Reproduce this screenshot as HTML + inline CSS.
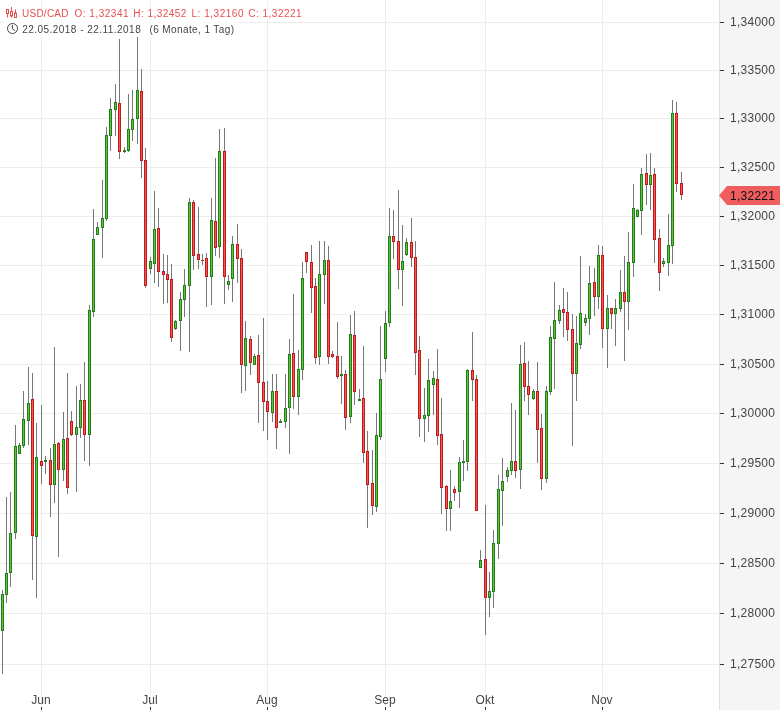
<!DOCTYPE html>
<html lang="de"><head><meta charset="utf-8"><title>USD/CAD</title>
<style>html,body{margin:0;padding:0;background:#fff}body{width:780px;height:710px;overflow:hidden}svg{display:block;will-change:transform}text{font-family:"Liberation Sans",Arial,sans-serif}</style></head><body>
<svg width="780" height="710" viewBox="0 0 780 710">
<rect width="780" height="710" fill="#fff"/>
<g shape-rendering="crispEdges" fill="#ededed">
<rect x="0" y="22" width="719" height="1"/>
<rect x="0" y="70" width="719" height="1"/>
<rect x="0" y="118" width="719" height="1"/>
<rect x="0" y="167" width="719" height="1"/>
<rect x="0" y="216" width="719" height="1"/>
<rect x="0" y="265" width="719" height="1"/>
<rect x="0" y="314" width="719" height="1"/>
<rect x="0" y="364" width="719" height="1"/>
<rect x="0" y="413" width="719" height="1"/>
<rect x="0" y="463" width="719" height="1"/>
<rect x="0" y="513" width="719" height="1"/>
<rect x="0" y="563" width="719" height="1"/>
<rect x="0" y="613" width="719" height="1"/>
<rect x="0" y="664" width="719" height="1"/>
<rect x="41" y="0" width="1" height="706"/>
<rect x="150" y="0" width="1" height="706"/>
<rect x="267" y="0" width="1" height="706"/>
<rect x="385" y="0" width="1" height="706"/>
<rect x="485" y="0" width="1" height="706"/>
<rect x="602" y="0" width="1" height="706"/>
</g>
<g shape-rendering="crispEdges">
<rect x="2" y="590" width="1" height="84" fill="#777777"/>
<rect x="1" y="594" width="3" height="37" fill="#1f7f1f"/>
<rect x="2" y="595" width="1" height="35" fill="#66c233"/>
<rect x="6" y="497" width="1" height="106" fill="#777777"/>
<rect x="5" y="573" width="3" height="22" fill="#1f7f1f"/>
<rect x="6" y="574" width="1" height="20" fill="#66c233"/>
<rect x="10" y="492" width="1" height="95" fill="#777777"/>
<rect x="9" y="533" width="3" height="40" fill="#1f7f1f"/>
<rect x="10" y="534" width="1" height="38" fill="#66c233"/>
<rect x="15" y="425" width="1" height="114" fill="#777777"/>
<rect x="14" y="446" width="3" height="87" fill="#1f7f1f"/>
<rect x="15" y="447" width="1" height="85" fill="#66c233"/>
<rect x="19" y="443" width="1" height="11" fill="#777777"/>
<rect x="18" y="445" width="3" height="9" fill="#1f7f1f"/>
<rect x="19" y="446" width="1" height="7" fill="#66c233"/>
<rect x="23" y="391" width="1" height="57" fill="#777777"/>
<rect x="22" y="419" width="3" height="27" fill="#1f7f1f"/>
<rect x="23" y="420" width="1" height="25" fill="#66c233"/>
<rect x="28" y="367" width="1" height="78" fill="#777777"/>
<rect x="27" y="403" width="3" height="18" fill="#1f7f1f"/>
<rect x="28" y="404" width="1" height="16" fill="#66c233"/>
<rect x="32" y="373" width="1" height="207" fill="#777777"/>
<rect x="31" y="399" width="3" height="137" fill="#c21a1a"/>
<rect x="32" y="400" width="1" height="135" fill="#f05858"/>
<rect x="36" y="423" width="1" height="175" fill="#777777"/>
<rect x="35" y="457" width="3" height="80" fill="#1f7f1f"/>
<rect x="36" y="458" width="1" height="78" fill="#66c233"/>
<rect x="41" y="405" width="1" height="79" fill="#777777"/>
<rect x="40" y="461" width="3" height="5" fill="#c21a1a"/>
<rect x="41" y="462" width="1" height="3" fill="#f05858"/>
<rect x="45" y="456" width="1" height="18" fill="#777777"/>
<rect x="44" y="460" width="3" height="2" fill="#1f7f1f"/>
<rect x="50" y="448" width="1" height="69" fill="#777777"/>
<rect x="49" y="460" width="3" height="25" fill="#c21a1a"/>
<rect x="50" y="461" width="1" height="23" fill="#f05858"/>
<rect x="54" y="347" width="1" height="156" fill="#777777"/>
<rect x="53" y="444" width="3" height="41" fill="#1f7f1f"/>
<rect x="54" y="445" width="1" height="39" fill="#66c233"/>
<rect x="58" y="442" width="1" height="115" fill="#777777"/>
<rect x="57" y="443" width="3" height="27" fill="#c21a1a"/>
<rect x="58" y="444" width="1" height="25" fill="#f05858"/>
<rect x="63" y="412" width="1" height="69" fill="#777777"/>
<rect x="62" y="439" width="3" height="31" fill="#1f7f1f"/>
<rect x="63" y="440" width="1" height="29" fill="#66c233"/>
<rect x="67" y="373" width="1" height="121" fill="#777777"/>
<rect x="66" y="438" width="3" height="50" fill="#c21a1a"/>
<rect x="67" y="439" width="1" height="48" fill="#f05858"/>
<rect x="71" y="411" width="1" height="25" fill="#777777"/>
<rect x="70" y="421" width="3" height="14" fill="#c21a1a"/>
<rect x="71" y="422" width="1" height="12" fill="#f05858"/>
<rect x="76" y="386" width="1" height="106" fill="#777777"/>
<rect x="75" y="427" width="3" height="8" fill="#1f7f1f"/>
<rect x="76" y="428" width="1" height="6" fill="#66c233"/>
<rect x="80" y="384" width="1" height="54" fill="#777777"/>
<rect x="79" y="400" width="3" height="28" fill="#1f7f1f"/>
<rect x="80" y="401" width="1" height="26" fill="#66c233"/>
<rect x="84" y="362" width="1" height="99" fill="#777777"/>
<rect x="83" y="400" width="3" height="35" fill="#c21a1a"/>
<rect x="84" y="401" width="1" height="33" fill="#f05858"/>
<rect x="89" y="305" width="1" height="161" fill="#777777"/>
<rect x="88" y="310" width="3" height="125" fill="#1f7f1f"/>
<rect x="89" y="311" width="1" height="123" fill="#66c233"/>
<rect x="93" y="209" width="1" height="108" fill="#777777"/>
<rect x="92" y="239" width="3" height="73" fill="#1f7f1f"/>
<rect x="93" y="240" width="1" height="71" fill="#66c233"/>
<rect x="97" y="222" width="1" height="13" fill="#777777"/>
<rect x="96" y="227" width="3" height="8" fill="#1f7f1f"/>
<rect x="97" y="228" width="1" height="6" fill="#66c233"/>
<rect x="102" y="180" width="1" height="78" fill="#777777"/>
<rect x="101" y="218" width="3" height="10" fill="#1f7f1f"/>
<rect x="102" y="219" width="1" height="8" fill="#66c233"/>
<rect x="106" y="127" width="1" height="94" fill="#777777"/>
<rect x="105" y="135" width="3" height="84" fill="#1f7f1f"/>
<rect x="106" y="136" width="1" height="82" fill="#66c233"/>
<rect x="110" y="98" width="1" height="53" fill="#777777"/>
<rect x="109" y="109" width="3" height="27" fill="#1f7f1f"/>
<rect x="110" y="110" width="1" height="25" fill="#66c233"/>
<rect x="115" y="84" width="1" height="52" fill="#777777"/>
<rect x="114" y="102" width="3" height="8" fill="#1f7f1f"/>
<rect x="115" y="103" width="1" height="6" fill="#66c233"/>
<rect x="119" y="39" width="1" height="120" fill="#777777"/>
<rect x="118" y="103" width="3" height="49" fill="#c21a1a"/>
<rect x="119" y="104" width="1" height="47" fill="#f05858"/>
<rect x="124" y="147" width="1" height="6" fill="#777777"/>
<rect x="123" y="150" width="3" height="2" fill="#1f7f1f"/>
<rect x="128" y="94" width="1" height="58" fill="#777777"/>
<rect x="127" y="129" width="3" height="22" fill="#1f7f1f"/>
<rect x="128" y="130" width="1" height="20" fill="#66c233"/>
<rect x="132" y="90" width="1" height="51" fill="#777777"/>
<rect x="131" y="119" width="3" height="11" fill="#1f7f1f"/>
<rect x="132" y="120" width="1" height="9" fill="#66c233"/>
<rect x="137" y="37" width="1" height="107" fill="#777777"/>
<rect x="136" y="90" width="3" height="29" fill="#1f7f1f"/>
<rect x="137" y="91" width="1" height="27" fill="#66c233"/>
<rect x="141" y="69" width="1" height="109" fill="#777777"/>
<rect x="140" y="91" width="3" height="70" fill="#c21a1a"/>
<rect x="141" y="92" width="1" height="68" fill="#f05858"/>
<rect x="145" y="148" width="1" height="140" fill="#777777"/>
<rect x="144" y="160" width="3" height="126" fill="#c21a1a"/>
<rect x="145" y="161" width="1" height="124" fill="#f05858"/>
<rect x="150" y="257" width="1" height="17" fill="#777777"/>
<rect x="149" y="261" width="3" height="8" fill="#1f7f1f"/>
<rect x="150" y="262" width="1" height="6" fill="#66c233"/>
<rect x="154" y="191" width="1" height="92" fill="#777777"/>
<rect x="153" y="229" width="3" height="35" fill="#1f7f1f"/>
<rect x="154" y="230" width="1" height="33" fill="#66c233"/>
<rect x="158" y="208" width="1" height="79" fill="#777777"/>
<rect x="157" y="228" width="3" height="44" fill="#c21a1a"/>
<rect x="158" y="229" width="1" height="42" fill="#f05858"/>
<rect x="163" y="254" width="1" height="50" fill="#777777"/>
<rect x="162" y="271" width="3" height="4" fill="#c21a1a"/>
<rect x="163" y="272" width="1" height="2" fill="#f05858"/>
<rect x="167" y="255" width="1" height="48" fill="#777777"/>
<rect x="166" y="274" width="3" height="6" fill="#c21a1a"/>
<rect x="167" y="275" width="1" height="4" fill="#f05858"/>
<rect x="171" y="264" width="1" height="78" fill="#777777"/>
<rect x="170" y="279" width="3" height="59" fill="#c21a1a"/>
<rect x="171" y="280" width="1" height="57" fill="#f05858"/>
<rect x="175" y="320" width="1" height="10" fill="#777777"/>
<rect x="174" y="321" width="3" height="8" fill="#1f7f1f"/>
<rect x="175" y="322" width="1" height="6" fill="#66c233"/>
<rect x="180" y="292" width="1" height="59" fill="#777777"/>
<rect x="179" y="299" width="3" height="22" fill="#1f7f1f"/>
<rect x="180" y="300" width="1" height="20" fill="#66c233"/>
<rect x="184" y="269" width="1" height="48" fill="#777777"/>
<rect x="183" y="285" width="3" height="15" fill="#1f7f1f"/>
<rect x="184" y="286" width="1" height="13" fill="#66c233"/>
<rect x="189" y="198" width="1" height="154" fill="#777777"/>
<rect x="188" y="202" width="3" height="84" fill="#1f7f1f"/>
<rect x="189" y="203" width="1" height="82" fill="#66c233"/>
<rect x="193" y="200" width="1" height="70" fill="#777777"/>
<rect x="192" y="202" width="3" height="54" fill="#c21a1a"/>
<rect x="193" y="203" width="1" height="52" fill="#f05858"/>
<rect x="198" y="207" width="1" height="62" fill="#777777"/>
<rect x="197" y="254" width="3" height="6" fill="#c21a1a"/>
<rect x="198" y="255" width="1" height="4" fill="#f05858"/>
<rect x="202" y="254" width="1" height="11" fill="#777777"/>
<rect x="201" y="260" width="3" height="1" fill="#c21a1a"/>
<rect x="206" y="253" width="1" height="54" fill="#777777"/>
<rect x="205" y="258" width="3" height="19" fill="#c21a1a"/>
<rect x="206" y="259" width="1" height="17" fill="#f05858"/>
<rect x="211" y="198" width="1" height="107" fill="#777777"/>
<rect x="210" y="220" width="3" height="57" fill="#1f7f1f"/>
<rect x="211" y="221" width="1" height="55" fill="#66c233"/>
<rect x="215" y="158" width="1" height="98" fill="#777777"/>
<rect x="214" y="221" width="3" height="27" fill="#c21a1a"/>
<rect x="215" y="222" width="1" height="25" fill="#f05858"/>
<rect x="219" y="129" width="1" height="129" fill="#777777"/>
<rect x="218" y="151" width="3" height="96" fill="#1f7f1f"/>
<rect x="219" y="152" width="1" height="94" fill="#66c233"/>
<rect x="224" y="128" width="1" height="176" fill="#777777"/>
<rect x="223" y="151" width="3" height="126" fill="#c21a1a"/>
<rect x="224" y="152" width="1" height="124" fill="#f05858"/>
<rect x="228" y="275" width="1" height="15" fill="#777777"/>
<rect x="227" y="281" width="3" height="4" fill="#1f7f1f"/>
<rect x="228" y="282" width="1" height="2" fill="#66c233"/>
<rect x="232" y="236" width="1" height="66" fill="#777777"/>
<rect x="231" y="244" width="3" height="35" fill="#1f7f1f"/>
<rect x="232" y="245" width="1" height="33" fill="#66c233"/>
<rect x="237" y="224" width="1" height="59" fill="#777777"/>
<rect x="236" y="244" width="3" height="15" fill="#c21a1a"/>
<rect x="237" y="245" width="1" height="13" fill="#f05858"/>
<rect x="241" y="249" width="1" height="144" fill="#777777"/>
<rect x="240" y="258" width="3" height="107" fill="#c21a1a"/>
<rect x="241" y="259" width="1" height="105" fill="#f05858"/>
<rect x="245" y="321" width="1" height="70" fill="#777777"/>
<rect x="244" y="338" width="3" height="28" fill="#1f7f1f"/>
<rect x="245" y="339" width="1" height="26" fill="#66c233"/>
<rect x="250" y="336" width="1" height="39" fill="#777777"/>
<rect x="249" y="339" width="3" height="24" fill="#c21a1a"/>
<rect x="250" y="340" width="1" height="22" fill="#f05858"/>
<rect x="254" y="354" width="1" height="11" fill="#777777"/>
<rect x="253" y="356" width="3" height="9" fill="#1f7f1f"/>
<rect x="254" y="357" width="1" height="7" fill="#66c233"/>
<rect x="258" y="335" width="1" height="88" fill="#777777"/>
<rect x="257" y="355" width="3" height="28" fill="#c21a1a"/>
<rect x="258" y="356" width="1" height="26" fill="#f05858"/>
<rect x="263" y="318" width="1" height="113" fill="#777777"/>
<rect x="262" y="382" width="3" height="20" fill="#c21a1a"/>
<rect x="263" y="383" width="1" height="18" fill="#f05858"/>
<rect x="267" y="381" width="1" height="59" fill="#777777"/>
<rect x="266" y="401" width="3" height="11" fill="#c21a1a"/>
<rect x="267" y="402" width="1" height="9" fill="#f05858"/>
<rect x="272" y="374" width="1" height="48" fill="#777777"/>
<rect x="271" y="391" width="3" height="22" fill="#1f7f1f"/>
<rect x="272" y="392" width="1" height="20" fill="#66c233"/>
<rect x="276" y="374" width="1" height="75" fill="#777777"/>
<rect x="275" y="391" width="3" height="37" fill="#c21a1a"/>
<rect x="276" y="392" width="1" height="35" fill="#f05858"/>
<rect x="280" y="419" width="1" height="4" fill="#777777"/>
<rect x="279" y="421" width="3" height="2" fill="#1f7f1f"/>
<rect x="285" y="374" width="1" height="54" fill="#777777"/>
<rect x="284" y="408" width="3" height="14" fill="#1f7f1f"/>
<rect x="285" y="409" width="1" height="12" fill="#66c233"/>
<rect x="289" y="339" width="1" height="115" fill="#777777"/>
<rect x="288" y="354" width="3" height="54" fill="#1f7f1f"/>
<rect x="289" y="355" width="1" height="52" fill="#66c233"/>
<rect x="293" y="294" width="1" height="115" fill="#777777"/>
<rect x="292" y="353" width="3" height="44" fill="#c21a1a"/>
<rect x="293" y="354" width="1" height="42" fill="#f05858"/>
<rect x="298" y="350" width="1" height="65" fill="#777777"/>
<rect x="297" y="369" width="3" height="28" fill="#1f7f1f"/>
<rect x="298" y="370" width="1" height="26" fill="#66c233"/>
<rect x="302" y="262" width="1" height="118" fill="#777777"/>
<rect x="301" y="278" width="3" height="92" fill="#1f7f1f"/>
<rect x="302" y="279" width="1" height="90" fill="#66c233"/>
<rect x="306" y="252" width="1" height="21" fill="#777777"/>
<rect x="305" y="252" width="3" height="10" fill="#c21a1a"/>
<rect x="306" y="253" width="1" height="8" fill="#f05858"/>
<rect x="311" y="245" width="1" height="68" fill="#777777"/>
<rect x="310" y="262" width="3" height="26" fill="#c21a1a"/>
<rect x="311" y="263" width="1" height="24" fill="#f05858"/>
<rect x="315" y="278" width="1" height="86" fill="#777777"/>
<rect x="314" y="286" width="3" height="72" fill="#c21a1a"/>
<rect x="315" y="287" width="1" height="70" fill="#f05858"/>
<rect x="319" y="241" width="1" height="124" fill="#777777"/>
<rect x="318" y="274" width="3" height="83" fill="#1f7f1f"/>
<rect x="319" y="275" width="1" height="81" fill="#66c233"/>
<rect x="324" y="241" width="1" height="63" fill="#777777"/>
<rect x="323" y="260" width="3" height="15" fill="#1f7f1f"/>
<rect x="324" y="261" width="1" height="13" fill="#66c233"/>
<rect x="328" y="246" width="1" height="118" fill="#777777"/>
<rect x="327" y="260" width="3" height="97" fill="#c21a1a"/>
<rect x="328" y="261" width="1" height="95" fill="#f05858"/>
<rect x="332" y="351" width="1" height="7" fill="#777777"/>
<rect x="331" y="354" width="3" height="3" fill="#c21a1a"/>
<rect x="332" y="355" width="1" height="1" fill="#f05858"/>
<rect x="337" y="322" width="1" height="57" fill="#777777"/>
<rect x="336" y="356" width="3" height="21" fill="#c21a1a"/>
<rect x="337" y="357" width="1" height="19" fill="#f05858"/>
<rect x="341" y="356" width="1" height="48" fill="#777777"/>
<rect x="340" y="374" width="3" height="2" fill="#1f7f1f"/>
<rect x="345" y="370" width="1" height="60" fill="#777777"/>
<rect x="344" y="374" width="3" height="44" fill="#c21a1a"/>
<rect x="345" y="375" width="1" height="42" fill="#f05858"/>
<rect x="350" y="315" width="1" height="108" fill="#777777"/>
<rect x="349" y="334" width="3" height="83" fill="#1f7f1f"/>
<rect x="350" y="335" width="1" height="81" fill="#66c233"/>
<rect x="354" y="311" width="1" height="94" fill="#777777"/>
<rect x="353" y="335" width="3" height="57" fill="#c21a1a"/>
<rect x="354" y="336" width="1" height="55" fill="#f05858"/>
<rect x="359" y="389" width="1" height="12" fill="#777777"/>
<rect x="358" y="399" width="3" height="2" fill="#1f7f1f"/>
<rect x="363" y="346" width="1" height="117" fill="#777777"/>
<rect x="362" y="398" width="3" height="55" fill="#c21a1a"/>
<rect x="363" y="399" width="1" height="53" fill="#f05858"/>
<rect x="367" y="431" width="1" height="97" fill="#777777"/>
<rect x="366" y="451" width="3" height="34" fill="#c21a1a"/>
<rect x="367" y="452" width="1" height="32" fill="#f05858"/>
<rect x="372" y="450" width="1" height="65" fill="#777777"/>
<rect x="371" y="483" width="3" height="23" fill="#c21a1a"/>
<rect x="372" y="484" width="1" height="21" fill="#f05858"/>
<rect x="376" y="413" width="1" height="99" fill="#777777"/>
<rect x="375" y="435" width="3" height="72" fill="#1f7f1f"/>
<rect x="376" y="436" width="1" height="70" fill="#66c233"/>
<rect x="380" y="326" width="1" height="114" fill="#777777"/>
<rect x="379" y="379" width="3" height="58" fill="#1f7f1f"/>
<rect x="380" y="380" width="1" height="56" fill="#66c233"/>
<rect x="385" y="311" width="1" height="61" fill="#777777"/>
<rect x="384" y="323" width="3" height="36" fill="#1f7f1f"/>
<rect x="385" y="324" width="1" height="34" fill="#66c233"/>
<rect x="389" y="208" width="1" height="119" fill="#777777"/>
<rect x="388" y="236" width="3" height="87" fill="#1f7f1f"/>
<rect x="389" y="237" width="1" height="85" fill="#66c233"/>
<rect x="393" y="210" width="1" height="49" fill="#777777"/>
<rect x="392" y="236" width="3" height="6" fill="#c21a1a"/>
<rect x="393" y="237" width="1" height="4" fill="#f05858"/>
<rect x="398" y="190" width="1" height="99" fill="#777777"/>
<rect x="397" y="241" width="3" height="29" fill="#c21a1a"/>
<rect x="398" y="242" width="1" height="27" fill="#f05858"/>
<rect x="402" y="225" width="1" height="81" fill="#777777"/>
<rect x="401" y="261" width="3" height="9" fill="#1f7f1f"/>
<rect x="402" y="262" width="1" height="7" fill="#66c233"/>
<rect x="406" y="238" width="1" height="18" fill="#777777"/>
<rect x="405" y="242" width="3" height="13" fill="#1f7f1f"/>
<rect x="406" y="243" width="1" height="11" fill="#66c233"/>
<rect x="411" y="218" width="1" height="49" fill="#777777"/>
<rect x="410" y="242" width="3" height="16" fill="#c21a1a"/>
<rect x="411" y="243" width="1" height="14" fill="#f05858"/>
<rect x="415" y="241" width="1" height="134" fill="#777777"/>
<rect x="414" y="257" width="3" height="96" fill="#c21a1a"/>
<rect x="415" y="258" width="1" height="94" fill="#f05858"/>
<rect x="419" y="336" width="1" height="101" fill="#777777"/>
<rect x="418" y="350" width="3" height="69" fill="#c21a1a"/>
<rect x="419" y="351" width="1" height="67" fill="#f05858"/>
<rect x="424" y="388" width="1" height="54" fill="#777777"/>
<rect x="423" y="415" width="3" height="4" fill="#1f7f1f"/>
<rect x="424" y="416" width="1" height="2" fill="#66c233"/>
<rect x="428" y="359" width="1" height="73" fill="#777777"/>
<rect x="427" y="380" width="3" height="36" fill="#1f7f1f"/>
<rect x="428" y="381" width="1" height="34" fill="#66c233"/>
<rect x="433" y="371" width="1" height="44" fill="#777777"/>
<rect x="432" y="378" width="3" height="7" fill="#1f7f1f"/>
<rect x="433" y="379" width="1" height="5" fill="#66c233"/>
<rect x="437" y="349" width="1" height="96" fill="#777777"/>
<rect x="436" y="379" width="3" height="57" fill="#c21a1a"/>
<rect x="437" y="380" width="1" height="55" fill="#f05858"/>
<rect x="441" y="398" width="1" height="116" fill="#777777"/>
<rect x="440" y="434" width="3" height="54" fill="#c21a1a"/>
<rect x="441" y="435" width="1" height="52" fill="#f05858"/>
<rect x="446" y="485" width="1" height="46" fill="#777777"/>
<rect x="445" y="486" width="3" height="23" fill="#c21a1a"/>
<rect x="446" y="487" width="1" height="21" fill="#f05858"/>
<rect x="450" y="470" width="1" height="61" fill="#777777"/>
<rect x="449" y="501" width="3" height="8" fill="#1f7f1f"/>
<rect x="450" y="502" width="1" height="6" fill="#66c233"/>
<rect x="454" y="486" width="1" height="15" fill="#777777"/>
<rect x="453" y="489" width="3" height="4" fill="#c21a1a"/>
<rect x="454" y="490" width="1" height="2" fill="#f05858"/>
<rect x="459" y="457" width="1" height="51" fill="#777777"/>
<rect x="458" y="462" width="3" height="30" fill="#1f7f1f"/>
<rect x="459" y="463" width="1" height="28" fill="#66c233"/>
<rect x="463" y="440" width="1" height="41" fill="#777777"/>
<rect x="462" y="461" width="3" height="2" fill="#1f7f1f"/>
<rect x="467" y="369" width="1" height="102" fill="#777777"/>
<rect x="466" y="370" width="3" height="92" fill="#1f7f1f"/>
<rect x="467" y="371" width="1" height="90" fill="#66c233"/>
<rect x="472" y="332" width="1" height="69" fill="#777777"/>
<rect x="471" y="370" width="3" height="10" fill="#c21a1a"/>
<rect x="472" y="371" width="1" height="8" fill="#f05858"/>
<rect x="476" y="375" width="1" height="136" fill="#777777"/>
<rect x="475" y="379" width="3" height="132" fill="#c21a1a"/>
<rect x="476" y="380" width="1" height="130" fill="#f05858"/>
<rect x="480" y="550" width="1" height="18" fill="#777777"/>
<rect x="479" y="560" width="3" height="8" fill="#1f7f1f"/>
<rect x="480" y="561" width="1" height="6" fill="#66c233"/>
<rect x="485" y="505" width="1" height="130" fill="#777777"/>
<rect x="484" y="559" width="3" height="39" fill="#c21a1a"/>
<rect x="485" y="560" width="1" height="37" fill="#f05858"/>
<rect x="489" y="572" width="1" height="45" fill="#777777"/>
<rect x="488" y="591" width="3" height="7" fill="#1f7f1f"/>
<rect x="489" y="592" width="1" height="5" fill="#66c233"/>
<rect x="493" y="530" width="1" height="78" fill="#777777"/>
<rect x="492" y="543" width="3" height="49" fill="#1f7f1f"/>
<rect x="493" y="544" width="1" height="47" fill="#66c233"/>
<rect x="498" y="475" width="1" height="84" fill="#777777"/>
<rect x="497" y="489" width="3" height="55" fill="#1f7f1f"/>
<rect x="498" y="490" width="1" height="53" fill="#66c233"/>
<rect x="502" y="458" width="1" height="68" fill="#777777"/>
<rect x="501" y="481" width="3" height="10" fill="#1f7f1f"/>
<rect x="502" y="482" width="1" height="8" fill="#66c233"/>
<rect x="507" y="467" width="1" height="15" fill="#777777"/>
<rect x="506" y="470" width="3" height="7" fill="#1f7f1f"/>
<rect x="507" y="471" width="1" height="5" fill="#66c233"/>
<rect x="511" y="403" width="1" height="72" fill="#777777"/>
<rect x="510" y="461" width="3" height="10" fill="#1f7f1f"/>
<rect x="511" y="462" width="1" height="8" fill="#66c233"/>
<rect x="515" y="410" width="1" height="68" fill="#777777"/>
<rect x="514" y="461" width="3" height="10" fill="#c21a1a"/>
<rect x="515" y="462" width="1" height="8" fill="#f05858"/>
<rect x="520" y="345" width="1" height="144" fill="#777777"/>
<rect x="519" y="364" width="3" height="106" fill="#1f7f1f"/>
<rect x="520" y="365" width="1" height="104" fill="#66c233"/>
<rect x="524" y="342" width="1" height="59" fill="#777777"/>
<rect x="523" y="363" width="3" height="24" fill="#c21a1a"/>
<rect x="524" y="364" width="1" height="22" fill="#f05858"/>
<rect x="528" y="361" width="1" height="54" fill="#777777"/>
<rect x="527" y="386" width="3" height="9" fill="#c21a1a"/>
<rect x="528" y="387" width="1" height="7" fill="#f05858"/>
<rect x="533" y="389" width="1" height="11" fill="#777777"/>
<rect x="532" y="391" width="3" height="8" fill="#1f7f1f"/>
<rect x="533" y="392" width="1" height="6" fill="#66c233"/>
<rect x="537" y="362" width="1" height="101" fill="#777777"/>
<rect x="536" y="391" width="3" height="39" fill="#c21a1a"/>
<rect x="537" y="392" width="1" height="37" fill="#f05858"/>
<rect x="541" y="414" width="1" height="76" fill="#777777"/>
<rect x="540" y="428" width="3" height="51" fill="#c21a1a"/>
<rect x="541" y="429" width="1" height="49" fill="#f05858"/>
<rect x="546" y="386" width="1" height="97" fill="#777777"/>
<rect x="545" y="391" width="3" height="88" fill="#1f7f1f"/>
<rect x="546" y="392" width="1" height="86" fill="#66c233"/>
<rect x="550" y="326" width="1" height="69" fill="#777777"/>
<rect x="549" y="337" width="3" height="55" fill="#1f7f1f"/>
<rect x="550" y="338" width="1" height="53" fill="#66c233"/>
<rect x="554" y="282" width="1" height="107" fill="#777777"/>
<rect x="553" y="320" width="3" height="19" fill="#1f7f1f"/>
<rect x="554" y="321" width="1" height="17" fill="#66c233"/>
<rect x="559" y="305" width="1" height="19" fill="#777777"/>
<rect x="558" y="310" width="3" height="11" fill="#1f7f1f"/>
<rect x="559" y="311" width="1" height="9" fill="#66c233"/>
<rect x="563" y="288" width="1" height="49" fill="#777777"/>
<rect x="562" y="309" width="3" height="4" fill="#c21a1a"/>
<rect x="563" y="310" width="1" height="2" fill="#f05858"/>
<rect x="567" y="292" width="1" height="49" fill="#777777"/>
<rect x="566" y="312" width="3" height="18" fill="#c21a1a"/>
<rect x="567" y="313" width="1" height="16" fill="#f05858"/>
<rect x="572" y="314" width="1" height="132" fill="#777777"/>
<rect x="571" y="329" width="3" height="45" fill="#c21a1a"/>
<rect x="572" y="330" width="1" height="43" fill="#f05858"/>
<rect x="576" y="316" width="1" height="85" fill="#777777"/>
<rect x="575" y="343" width="3" height="31" fill="#1f7f1f"/>
<rect x="576" y="344" width="1" height="29" fill="#66c233"/>
<rect x="580" y="256" width="1" height="93" fill="#777777"/>
<rect x="579" y="313" width="3" height="32" fill="#1f7f1f"/>
<rect x="580" y="314" width="1" height="30" fill="#66c233"/>
<rect x="585" y="314" width="1" height="12" fill="#777777"/>
<rect x="584" y="318" width="3" height="5" fill="#1f7f1f"/>
<rect x="585" y="319" width="1" height="3" fill="#66c233"/>
<rect x="589" y="266" width="1" height="69" fill="#777777"/>
<rect x="588" y="283" width="3" height="36" fill="#1f7f1f"/>
<rect x="589" y="284" width="1" height="34" fill="#66c233"/>
<rect x="594" y="268" width="1" height="48" fill="#777777"/>
<rect x="593" y="282" width="3" height="15" fill="#c21a1a"/>
<rect x="594" y="283" width="1" height="13" fill="#f05858"/>
<rect x="598" y="245" width="1" height="64" fill="#777777"/>
<rect x="597" y="255" width="3" height="42" fill="#1f7f1f"/>
<rect x="598" y="256" width="1" height="40" fill="#66c233"/>
<rect x="602" y="246" width="1" height="102" fill="#777777"/>
<rect x="601" y="255" width="3" height="74" fill="#c21a1a"/>
<rect x="602" y="256" width="1" height="72" fill="#f05858"/>
<rect x="607" y="295" width="1" height="73" fill="#777777"/>
<rect x="606" y="308" width="3" height="21" fill="#1f7f1f"/>
<rect x="607" y="309" width="1" height="19" fill="#66c233"/>
<rect x="611" y="308" width="1" height="21" fill="#777777"/>
<rect x="610" y="308" width="3" height="6" fill="#c21a1a"/>
<rect x="611" y="309" width="1" height="4" fill="#f05858"/>
<rect x="615" y="299" width="1" height="47" fill="#777777"/>
<rect x="614" y="308" width="3" height="6" fill="#1f7f1f"/>
<rect x="615" y="309" width="1" height="4" fill="#66c233"/>
<rect x="620" y="270" width="1" height="42" fill="#777777"/>
<rect x="619" y="292" width="3" height="17" fill="#1f7f1f"/>
<rect x="620" y="293" width="1" height="15" fill="#66c233"/>
<rect x="624" y="256" width="1" height="105" fill="#777777"/>
<rect x="623" y="292" width="3" height="10" fill="#c21a1a"/>
<rect x="624" y="293" width="1" height="8" fill="#f05858"/>
<rect x="628" y="232" width="1" height="98" fill="#777777"/>
<rect x="627" y="262" width="3" height="40" fill="#1f7f1f"/>
<rect x="628" y="263" width="1" height="38" fill="#66c233"/>
<rect x="633" y="184" width="1" height="93" fill="#777777"/>
<rect x="632" y="208" width="3" height="55" fill="#1f7f1f"/>
<rect x="633" y="209" width="1" height="53" fill="#66c233"/>
<rect x="637" y="209" width="1" height="8" fill="#777777"/>
<rect x="636" y="210" width="3" height="7" fill="#1f7f1f"/>
<rect x="637" y="211" width="1" height="5" fill="#66c233"/>
<rect x="641" y="168" width="1" height="67" fill="#777777"/>
<rect x="640" y="174" width="3" height="37" fill="#1f7f1f"/>
<rect x="641" y="175" width="1" height="35" fill="#66c233"/>
<rect x="646" y="154" width="1" height="51" fill="#777777"/>
<rect x="645" y="173" width="3" height="12" fill="#c21a1a"/>
<rect x="646" y="174" width="1" height="10" fill="#f05858"/>
<rect x="650" y="153" width="1" height="57" fill="#777777"/>
<rect x="649" y="175" width="3" height="10" fill="#1f7f1f"/>
<rect x="650" y="176" width="1" height="8" fill="#66c233"/>
<rect x="654" y="168" width="1" height="95" fill="#777777"/>
<rect x="653" y="174" width="3" height="66" fill="#c21a1a"/>
<rect x="654" y="175" width="1" height="64" fill="#f05858"/>
<rect x="659" y="229" width="1" height="62" fill="#777777"/>
<rect x="658" y="238" width="3" height="35" fill="#c21a1a"/>
<rect x="659" y="239" width="1" height="33" fill="#f05858"/>
<rect x="663" y="258" width="1" height="9" fill="#777777"/>
<rect x="662" y="261" width="3" height="3" fill="#1f7f1f"/>
<rect x="663" y="262" width="1" height="1" fill="#66c233"/>
<rect x="668" y="214" width="1" height="62" fill="#777777"/>
<rect x="667" y="245" width="3" height="18" fill="#1f7f1f"/>
<rect x="668" y="246" width="1" height="16" fill="#66c233"/>
<rect x="672" y="100" width="1" height="164" fill="#777777"/>
<rect x="671" y="113" width="3" height="133" fill="#1f7f1f"/>
<rect x="672" y="114" width="1" height="131" fill="#66c233"/>
<rect x="676" y="102" width="1" height="90" fill="#777777"/>
<rect x="675" y="113" width="3" height="71" fill="#c21a1a"/>
<rect x="676" y="114" width="1" height="69" fill="#f05858"/>
<rect x="681" y="172" width="1" height="28" fill="#777777"/>
<rect x="680" y="183" width="3" height="12" fill="#c21a1a"/>
<rect x="681" y="184" width="1" height="10" fill="#f05858"/>
</g>
<rect x="4" y="6" width="301" height="14" fill="#fff" fill-opacity="0.75"/><rect x="4" y="21" width="234" height="16" fill="#fff" fill-opacity="0.75"/>
<g shape-rendering="crispEdges">
<rect x="720" y="0" width="60" height="710" fill="#f5f5f5"/>
<rect x="719" y="0" width="1" height="710" fill="#dfdfdf"/>
<rect x="720" y="22" width="4" height="1" fill="#333"/>
<rect x="720" y="70" width="4" height="1" fill="#333"/>
<rect x="720" y="118" width="4" height="1" fill="#333"/>
<rect x="720" y="167" width="4" height="1" fill="#333"/>
<rect x="720" y="216" width="4" height="1" fill="#333"/>
<rect x="720" y="265" width="4" height="1" fill="#333"/>
<rect x="720" y="314" width="4" height="1" fill="#333"/>
<rect x="720" y="364" width="4" height="1" fill="#333"/>
<rect x="720" y="413" width="4" height="1" fill="#333"/>
<rect x="720" y="463" width="4" height="1" fill="#333"/>
<rect x="720" y="513" width="4" height="1" fill="#333"/>
<rect x="720" y="563" width="4" height="1" fill="#333"/>
<rect x="720" y="613" width="4" height="1" fill="#333"/>
<rect x="720" y="664" width="4" height="1" fill="#333"/>
<rect x="41" y="707" width="1" height="3" fill="#333"/>
<rect x="150" y="707" width="1" height="3" fill="#333"/>
<rect x="267" y="707" width="1" height="3" fill="#333"/>
<rect x="385" y="707" width="1" height="3" fill="#333"/>
<rect x="485" y="707" width="1" height="3" fill="#333"/>
<rect x="602" y="707" width="1" height="3" fill="#333"/>
</g>
<g font-size="12" fill="#454545">
<text x="730" y="26.1" textLength="45" lengthAdjust="spacing">1,34000</text>
<text x="730" y="74.1" textLength="45" lengthAdjust="spacing">1,33500</text>
<text x="730" y="122.1" textLength="45" lengthAdjust="spacing">1,33000</text>
<text x="730" y="171.1" textLength="45" lengthAdjust="spacing">1,32500</text>
<text x="730" y="220.1" textLength="45" lengthAdjust="spacing">1,32000</text>
<text x="730" y="269.1" textLength="45" lengthAdjust="spacing">1,31500</text>
<text x="730" y="318.1" textLength="45" lengthAdjust="spacing">1,31000</text>
<text x="730" y="368.1" textLength="45" lengthAdjust="spacing">1,30500</text>
<text x="730" y="417.1" textLength="45" lengthAdjust="spacing">1,30000</text>
<text x="730" y="467.1" textLength="45" lengthAdjust="spacing">1,29500</text>
<text x="730" y="517.1" textLength="45" lengthAdjust="spacing">1,29000</text>
<text x="730" y="567.1" textLength="45" lengthAdjust="spacing">1,28500</text>
<text x="730" y="617.1" textLength="45" lengthAdjust="spacing">1,28000</text>
<text x="730" y="668.1" textLength="45" lengthAdjust="spacing">1,27500</text>
<text x="40.9" y="703.6" text-anchor="middle">Jun</text>
<text x="149.9" y="703.6" text-anchor="middle">Jul</text>
<text x="266.9" y="703.6" text-anchor="middle">Aug</text>
<text x="384.9" y="703.6" text-anchor="middle">Sep</text>
<text x="484.9" y="703.6" text-anchor="middle">Okt</text>
<text x="601.9" y="703.6" text-anchor="middle">Nov</text>
</g>
<polygon points="719,195.5 727,186 780,186 780,205 727,205" fill="#f05d5e"/>
<text x="730" y="199.8" font-size="12" fill="#111" textLength="45" lengthAdjust="spacing">1,32221</text>
<g fill="none" stroke="#e94e51" stroke-width="1">
<rect x="6.5" y="9.5" width="2" height="4"/><path d="M7.5 13.5V17.5"/>
<path d="M11.5 7V11.5M11.5 16V17.5"/><rect x="10.5" y="11.5" width="2" height="4.5"/>
<path d="M15.5 9.5V13"/><rect x="14.5" y="13" width="2" height="4.5"/>
</g>
<g fill="none" stroke="#454545" stroke-width="1"><circle cx="12.5" cy="28.5" r="5"/><path d="M12.4 25.3V28.8L14.6 30.5" stroke-linecap="round" stroke-linejoin="round"/></g>
<g font-size="10" fill="#e94e51">
<text x="22.0" y="17" textLength="46.5" lengthAdjust="spacing">USD/CAD</text>
<text x="74.5" y="17" textLength="54" lengthAdjust="spacing">O: 1,32341</text>
<text x="133.3" y="17" textLength="53" lengthAdjust="spacing">H: 1,32452</text>
<text x="191.5" y="17" textLength="52" lengthAdjust="spacing">L: 1,32160</text>
<text x="248.3" y="17" textLength="53.3" lengthAdjust="spacing">C: 1,32221</text>
</g>
<g font-size="10" fill="#454545">
<text x="22.2" y="33" textLength="118.5" lengthAdjust="spacing">22.05.2018 - 22.11.2018</text>
<text x="149.5" y="33" textLength="84.5" lengthAdjust="spacing">(6 Monate, 1 Tag)</text>
</g>
</svg></body></html>
